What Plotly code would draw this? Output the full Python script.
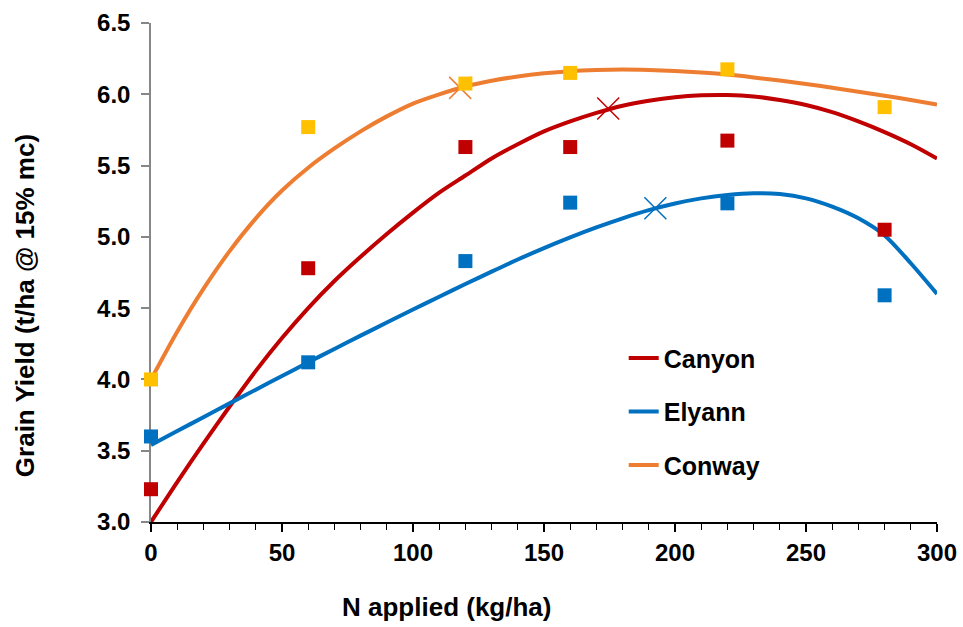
import plotly.graph_objects as go

# ---- observed data (squares) ----
n_applied = [0, 60, 120, 160, 220, 280]
canyon_yield = [3.23, 4.78, 5.63, 5.63, 5.675, 5.05]
elyann_yield = [3.60, 4.12, 4.83, 5.24, 5.235, 4.59]
conway_yield = [4.00, 5.77, 6.075, 6.15, 6.175, 5.91]

# ---- fitted response curves ----
fit_x = [0, 10, 20, 30, 40, 50, 60, 70, 80, 90, 100, 110, 120, 130, 140, 150,
         160, 170, 180, 190, 200, 210, 220, 230, 240, 250, 260, 270, 280, 290, 300]
canyon_fit_y = [3.00, 3.28, 3.55, 3.81, 4.06, 4.29, 4.50, 4.69, 4.86, 5.02, 5.17,
                5.31, 5.43, 5.55, 5.65, 5.74, 5.81, 5.87, 5.92, 5.955, 5.98, 5.993,
                5.995, 5.985, 5.96, 5.925, 5.875, 5.81, 5.735, 5.65, 5.55]
elyann_fit_y = [3.54, 3.638, 3.735, 3.832, 3.928, 4.024, 4.12, 4.214, 4.307, 4.399, 4.49,
                4.58, 4.669, 4.756, 4.841, 4.921, 4.996, 5.066, 5.13, 5.187, 5.234, 5.27,
                5.294, 5.306, 5.30, 5.27, 5.212, 5.13, 5.01, 4.815, 4.60]
conway_fit_y = [4.00, 4.335, 4.635, 4.90, 5.13, 5.325, 5.485, 5.62, 5.74, 5.845, 5.935,
                6.00, 6.055, 6.095, 6.125, 6.147, 6.162, 6.17, 6.173, 6.17, 6.163, 6.152,
                6.138, 6.118, 6.096, 6.072, 6.046, 6.018, 5.99, 5.96, 5.928]

# ---- economic optimum points (X markers) ----
opt_names = ["Canyon", "Elyann", "Conway"]
opt_x = [174.5, 192.5, 118]
opt_y = [5.90, 5.20, 6.045]

series = ["Canyon", "Elyann", "Conway"]
line_colors = {"Canyon": "#C00000", "Elyann": "#0070C0", "Conway": "#ED7D31"}
marker_colors = {"Canyon": "#C00000", "Elyann": "#0070C0", "Conway": "#FFC000"}

FONT = "Arial, Liberation Sans, sans-serif"

fig = go.Figure()

fits = {"Canyon": canyon_fit_y, "Elyann": elyann_fit_y, "Conway": conway_fit_y}
obs = {"Canyon": canyon_yield, "Elyann": elyann_yield, "Conway": conway_yield}

for name in series:
    fig.add_trace(go.Scatter(
        x=fit_x, y=fits[name], mode="lines", name=name, legendgroup=name,
        line=dict(color=line_colors[name], width=4, shape="spline", smoothing=0.8),
        cliponaxis=False,
    ))

for name, ox, oy in zip(opt_names, opt_x, opt_y):
    fig.add_trace(go.Scatter(
        x=[ox], y=[oy], mode="markers", showlegend=False,
        marker=dict(symbol="x-thin-open", size=22, color=line_colors[name],
                    line=dict(color=line_colors[name], width=1.5)),
        cliponaxis=False,
    ))

for name in ["Canyon", "Elyann", "Conway"]:
    fig.add_trace(go.Scatter(
        x=n_applied, y=obs[name], mode="markers", showlegend=False,
        marker=dict(symbol="square", size=14, color=marker_colors[name],
                    line=dict(width=0)),
        cliponaxis=False,
    ))

fig.update_layout(
    width=963, height=627,
    margin=dict(l=151, r=26, t=23, b=105),
    paper_bgcolor="white", plot_bgcolor="white",
    font=dict(family=FONT, size=24, color="black"),
    showlegend=True,
    legend=dict(
        x=0.6014, y=0.374, xanchor="left", yanchor="top",
        font=dict(family=FONT, size=25, color="black", weight="bold"),
        traceorder="grouped", tracegroupgap=18,
        bgcolor="rgba(0,0,0,0)", borderwidth=0,
    ),
    xaxis=dict(
        range=[0, 300], dtick=50, tick0=0,
        showgrid=False, zeroline=False, automargin=False,
        ticklabeloverflow="allow",
        showline=True, linecolor="black", linewidth=1.5,
        ticks="outside", ticklen=8, tickwidth=1.5, tickcolor="black",
        minor=dict(dtick=10, ticks="outside", ticklen=6, tickwidth=1, tickcolor="black", showgrid=False),
        tickfont=dict(family=FONT, size=24, color="black", weight="bold"),
        layer="below traces",
    ),
    yaxis=dict(
        range=[3.0, 6.5], dtick=0.5, tick0=3.0, tickformat=".1f",
        showgrid=False, zeroline=False, automargin=False,
        ticklabeloverflow="allow",
        showline=True, linecolor="#868686", linewidth=1.5,
        ticks="outside", ticklen=8, tickwidth=1.5, tickcolor="#868686",
        tickfont=dict(family=FONT, size=24, color="black", weight="bold"),
        ticklabelstandoff=6,
        layer="below traces",
    ),
    annotations=[
        dict(text="N applied (kg/ha)", xref="paper", yref="paper",
             x=0.376, y=-0.170, xanchor="center", yanchor="middle",
             showarrow=False, font=dict(family=FONT, size=26, color="black", weight="bold")),
        dict(text="Grain Yield (t/ha @ 15% mc)", xref="paper", yref="paper",
             x=-0.160, y=0.433, xanchor="center", yanchor="middle", textangle=-90,
             showarrow=False, font=dict(family=FONT, size=26, color="black", weight="bold")),
    ],
)

fig.write_html("out.html")
